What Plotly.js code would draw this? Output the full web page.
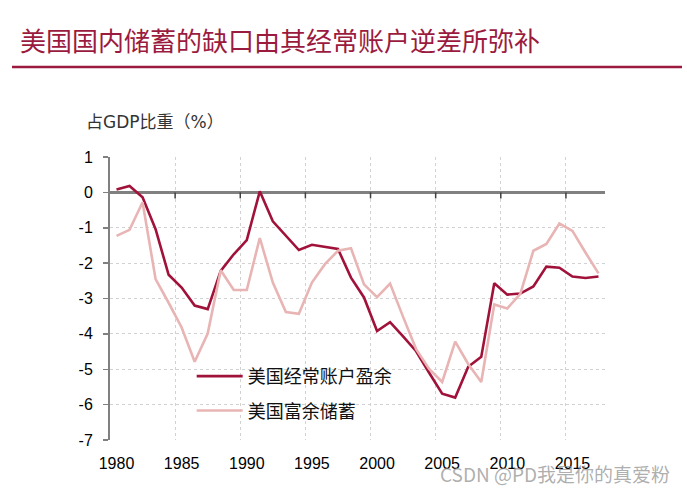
<!DOCTYPE html>
<html>
<head>
<meta charset="utf-8">
<script src="https://cdn.plot.ly/plotly-3.0.1.min.js"></script>
<style>html,body{margin:0;padding:0;background:#fff;}#chart{width:687px;height:496px;}</style>
</head>
<body>
<div id="chart"></div>
<script>
const years = [1980,1981,1982,1983,1984,1985,1986,1987,1988,1989,1990,1991,1992,1993,1994,1995,1996,1997,1998,1999,2000,2001,2002,2003,2004,2005,2006,2007,2008,2009,2010,2011,2012,2013,2014,2015,2016,2017];
const currentAccount = [0.08,0.18,-0.14,-1.04,-2.33,-2.69,-3.2,-3.3,-2.22,-1.75,-1.35,0.03,-0.82,-1.23,-1.63,-1.48,-1.53,-1.6,-2.41,-2.97,-3.92,-3.67,-4.07,-4.49,-5.1,-5.69,-5.8,-4.93,-4.65,-2.57,-2.89,-2.86,-2.66,-2.1,-2.13,-2.38,-2.42,-2.38];
const surplusSaving = [-1.23,-1.06,-0.28,-2.45,-3.12,-3.82,-4.79,-3.99,-2.2,-2.76,-2.76,-1.29,-2.55,-3.38,-3.43,-2.55,-2.03,-1.65,-1.58,-2.6,-2.96,-2.58,-3.52,-4.43,-4.99,-5.36,-4.22,-4.85,-5.36,-3.17,-3.28,-2.87,-1.65,-1.46,-0.88,-1.09,-1.7,-2.29];
const seriesNames = ['美国经常账户盈余','美国富余储蓄'];
const xTickLabels = ['1980','1985','1990','1995','2000','2005','2010','2015'];
const xTickVals = [1980,1985,1990,1995,2000,2005,2010,2015];
const yTickVals = [1,0,-1,-2,-3,-4,-5,-6,-7];
const yTickLabels = ['1','0','-1','-2','-3','-4','-5','-6','-7'];
const catTicks = [1984.5,1989.5,1994.5,1999.5,2004.5,2009.5,2014.5];
const titleText = '美国国内储蓄的缺口由其经常账户逆差所弥补';
const yTitleText = '占GDP比重（%）';
const watermark = 'CSDN @PD我是你的真爱粉';

const FONT = 'Liberation Sans, Arial, sans-serif';
const CJK = 'Noto Sans CJK SC, sans-serif';
const DARK = '#A1123A';
const PINK = '#E8B4B4';
const GRID = '#d2d2d2';
const AXIS = '#808080';

const traces = [
  {x: years, y: currentAccount, name: seriesNames[0], type: 'scatter', mode: 'lines',
   line: {color: DARK, width: 2.6}, legendgroup: 'a'},
  {x: years, y: surplusSaving, name: seriesNames[1], type: 'scatter', mode: 'lines',
   line: {color: PINK, width: 2.6}, legendgroup: 'b'}
];

const tickShapes = catTicks.map(v => ({
  type: 'line', xref: 'x', yref: 'y', ysizemode: 'pixel', yanchor: 0,
  x0: v, x1: v, y0: 0, y1: -6, line: {color: '#404040', width: 1.5}
}));

const layout = {
  width: 687, height: 496,
  margin: {l: 110, r: 82, t: 157, b: 56},
  paper_bgcolor: '#fff', plot_bgcolor: '#fff',
  font: {family: FONT, size: 16, color: '#000'},
  showlegend: true,
  legend: {x: 0.165, y: 0.29, xanchor: 'left', yanchor: 'top',
           bgcolor: 'rgba(0,0,0,0)', font: {family: CJK, size: 18, color: '#111'},
           traceorder: 'grouped', tracegroupgap: 8, itemwidth: 46},
  xaxis: {range: [1979.5, 2017.5], tickvals: xTickVals, ticktext: xTickLabels,
          ticks: '', showgrid: false, showline: false, zeroline: false,
          ticklabelstandoff: 12, tickfont: {family: FONT, size: 16, color: '#000'},
          minor: {tick0: 1979.5, dtick: 5, showgrid: true, griddash: 'dot', gridcolor: GRID, gridwidth: 1, ticks: ''},
          fixedrange: true},
  yaxis: {range: [-7, 1], tickvals: yTickVals, ticktext: yTickLabels,
          ticks: 'outside', ticklen: 5, tickcolor: AXIS, tickwidth: 1.5,
          showline: true, linecolor: AXIS, linewidth: 2,
          showgrid: true, griddash: 'dot', gridcolor: GRID, gridwidth: 1,
          zeroline: true, zerolinecolor: AXIS, zerolinewidth: 2.5,
          ticklabelstandoff: 7, tickfont: {family: FONT, size: 16, color: '#000'},
          fixedrange: true},
  title: {text: titleText, x: 20/687, xanchor: 'left', xref: 'container',
          y: 1 - 42/496, yanchor: 'middle', yref: 'container',
          font: {family: CJK, size: 26, color: '#9B1B3F'}},
  shapes: [
    {type: 'line', xref: 'paper', yref: 'paper', x0: -98/495, x1: 572/495, y0: 373/283, y1: 373/283,
     line: {color: '#9B1B3F', width: 2.5}}
  ].concat(tickShapes),
  annotations: [
    {text: yTitleText, xref: 'paper', yref: 'paper', x: -26/495, y: (440-122)/283,
     xanchor: 'left', yanchor: 'middle', showarrow: false,
     font: {family: 'DejaVu Sans, Noto Sans CJK SC, sans-serif', size: 17, color: '#333'}},
    {text: watermark, xref: 'paper', yref: 'paper', x: 562/495, y: (440-473)/283,
     xanchor: 'right', yanchor: 'middle', showarrow: false,
     font: {family: CJK, size: 19, color: 'rgba(140,140,140,0.7)'}}
  ]
};

Plotly.newPlot('chart', traces, layout, {displayModeBar: false, staticPlot: true});
</script>
</body>
</html>
